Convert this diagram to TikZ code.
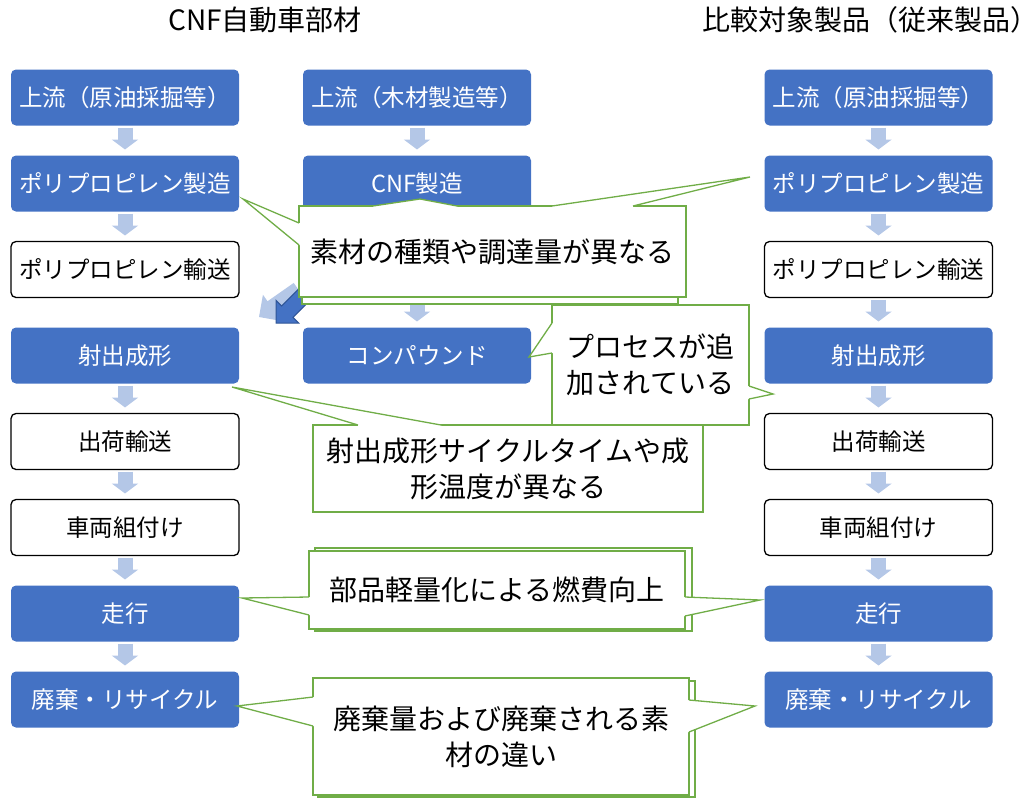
\documentclass[tikz,border=0pt]{standalone}
\usepackage{fontspec}
\setmainfont{Noto Sans CJK JP}
\usetikzlibrary{arrows.meta,positioning,calc}
\definecolor{boxblue}{HTML}{4472C4}
\definecolor{flowblue}{HTML}{B4C7E7}
\definecolor{notegreen}{HTML}{70AD47}
\definecolor{edgeblue}{HTML}{2F5597}
% pointer of a callout: base point, tip, base point, shift into the box
\newcommand{\notetip}[4]{%
  \fill[white] ($#1+#4$) -- #1 -- #2 -- #3 -- ($#3+#4$) -- cycle;
  \draw[ptr] #1 -- #2 -- #3;}

\begin{document}
\begin{tikzpicture}[x=1pt,y=1pt,
  box/.style={minimum width=228pt, minimum height=56pt, inner sep=0pt, outer sep=0pt,
    rounded corners=5pt, font=\fontsize{23.5}{27}\selectfont},
  bluebox/.style={box, fill=boxblue, text=white},
  whitebox/.style={box, draw=black, line width=1.3pt, fill=white},
  flow/.style={draw=flowblue, line width=15pt, shorten <=2pt, shorten >=6pt,
    -{Triangle[length=10pt,width=26pt]}},
  note/.style={draw=notegreen, line width=1.3pt, fill=white, inner sep=0pt,
    align=center, font=\fontsize{28}{36}\selectfont},
  ptr/.style={draw=notegreen, line width=1.3pt},
  title/.style={font=\fontsize{28}{32}\selectfont}]
\useasboundingbox (0,0) rectangle (1036,-798);

\node[title] (t1) at (265,-20) {CNF自動車部材};
\node[title] (t2) at (870,-20) {比較対象製品（従来製品）};

% CNF column
\node[bluebox] (l1) at (125,-97.5) {上流（原油採掘等）};
\node[bluebox, below=30pt of l1] (l2) {ポリプロピレン製造};
\node[whitebox, below=30pt of l2] (l3) {ポリプロピレン輸送};
\node[bluebox, below=30pt of l3] (l4) {射出成形};
\node[whitebox, below=30pt of l4] (l5) {出荷輸送};
\node[whitebox, below=30pt of l5] (l6) {車両組付け};
\node[bluebox, below=30pt of l6] (l7) {走行};
\node[bluebox, below=30pt of l7] (l8) {廃棄・リサイクル};

\node[bluebox] (m1) at (417,-97.5) {上流（木材製造等）};
\node[bluebox, below=30pt of m1] (m2) {CNF製造};
\coordinate (m3) at (417,-297.5);
\node[bluebox] (m4) at (417,-355.5) {コンパウンド};

% conventional column
\node[bluebox] (r1) at (878.5,-97.5) {上流（原油採掘等）};
\node[bluebox, below=30pt of r1] (r2) {ポリプロピレン製造};
\node[whitebox, below=30pt of r2] (r3) {ポリプロピレン輸送};
\node[bluebox, below=30pt of r3] (r4) {射出成形};
\node[whitebox, below=30pt of r4] (r5) {出荷輸送};
\node[whitebox, below=30pt of r5] (r6) {車両組付け};
\node[bluebox, below=30pt of r6] (r7) {走行};
\node[bluebox, below=30pt of r7] (r8) {廃棄・リサイクル};

\foreach \a/\b in {l1/l2,l2/l3,l4/l5,l5/l6,l6/l7,l7/l8,m1/m2,
                   r1/r2,r2/r3,r3/r4,r4/r5,r5/r6,r6/r7,r7/r8}
  \draw[flow] (\a.south) -- (\b.north);
\draw[flow, shorten <=0pt] (m3) -- (m4.north);

% arrow from the middle column into 射出成形
\fill[flowblue, shift={(259,-317)}, rotate=215]
  (0,0) -- (-16,16) -- (-16,8) -- (-48,8) -- (-48,-8) -- (-16,-8) -- (-16,-16) -- cycle;
\draw[fill=boxblue, draw=edgeblue, line width=1pt, shift={(276,-323)}, rotate=225]
  (0,0) -- (-16,16) -- (-16,8) -- (-48,8) -- (-48,-8) -- (-16,-8) -- (-16,-16) -- cycle;

% callouts
\node[note, minimum width=390pt, minimum height=87pt] (c3) at (508,-468.5)
  {射出成形サイクルタイムや成\\形温度が異なる};
\notetip{(358,-425)}{(232,-387)}{(441,-425)}{(0,-2)}

\draw[note] (302,-212) rectangle (678,-304);
\node[note, minimum width=387pt, minimum height=91pt] (c1) at (492.5,-251.5)
  {素材の種類や調達量が異なる};
\notetip{(299,-223)}{(243,-199)}{(299,-245)}{(2,0)}
\notetip{(373,-206)}{(420,-199)}{(457,-206)}{(0,-2)}
\notetip{(552,-206)}{(750,-177)}{(633,-206)}{(0,-2)}

\node[note, minimum width=197pt, minimum height=120pt] (c2) at (650.5,-365)
  {プロセスが追\\加されている};
\notetip{(552,-323)}{(529,-357)}{(552,-353)}{(2,0)}
\notetip{(749,-386)}{(773,-394)}{(749,-399)}{(-2,0)}

\draw[note] (315,-548) rectangle (692,-631);
\node[note, minimum width=376pt, minimum height=78pt] (c4) at (497,-590)
  {部品軽量化による燃費向上};
\notetip{(309,-597)}{(242,-598)}{(309,-615)}{(2,0)}
\notetip{(685,-597)}{(760,-600)}{(685,-616)}{(-2,0)}

\draw[note] (318,-681) rectangle (695,-797);
\node[note, minimum width=376pt, minimum height=117pt] (c5) at (501,-736.5)
  {廃棄量および廃棄される素\\材の違い};
\notetip{(313,-697)}{(237,-706)}{(313,-726)}{(2,0)}
\notetip{(689,-700)}{(755,-706)}{(689,-732)}{(-2,0)}
\end{tikzpicture}
\end{document}
